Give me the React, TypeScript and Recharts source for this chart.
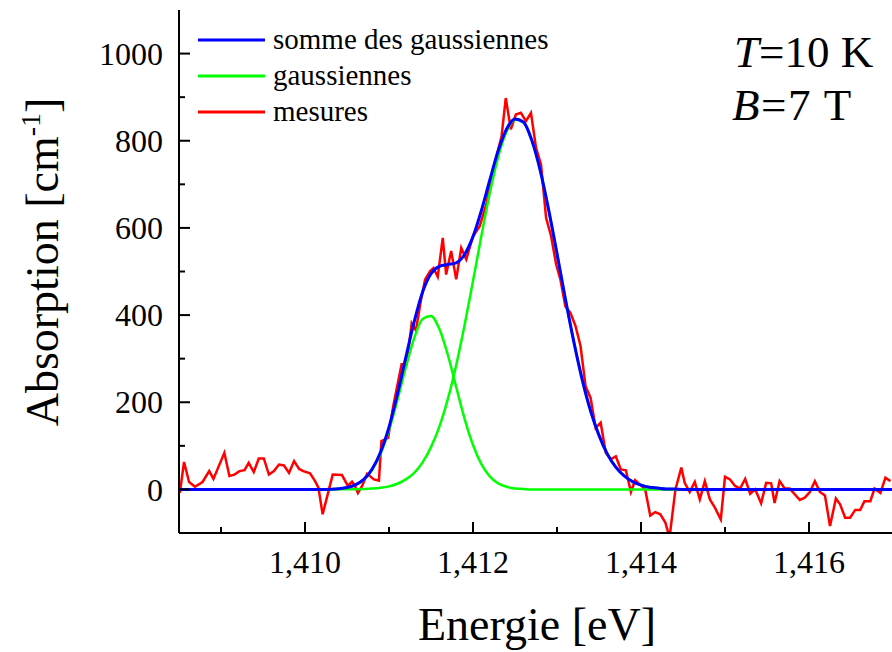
import { LineChart, Line, XAxis, YAxis, Legend } from 'recharts';

const SERIF = '"Liberation Serif", "Times New Roman", serif';

// mesures : énergie (eV) / absorption (cm-1)
const energies = [
  1.40851, 1.40856, 1.40862, 1.40869, 1.40878, 1.40886, 1.40891, 1.40904, 1.4091, 1.40916,
  1.40922, 1.40928, 1.40933, 1.40939, 1.40945, 1.40951, 1.40957, 1.40963, 1.40969, 1.40975,
  1.40981, 1.40987, 1.40993, 1.40998, 1.41006, 1.41012, 1.41016, 1.41021, 1.41028, 1.41033,
  1.41044, 1.41051, 1.41056, 1.41059, 1.41063, 1.41068, 1.41074, 1.41082, 1.41088, 1.41091,
  1.41099, 1.41105, 1.41115, 1.41121, 1.41127, 1.41132, 1.41138, 1.41143, 1.41149, 1.41153,
  1.41158, 1.41164, 1.41168, 1.41174, 1.4118, 1.41186, 1.41192, 1.412, 1.41208, 1.41216,
  1.41222, 1.41228, 1.41234, 1.41239, 1.41245, 1.41251, 1.41257, 1.41263, 1.41269, 1.41275,
  1.41281, 1.41287, 1.41293, 1.41299, 1.41304, 1.4131, 1.41316, 1.41322, 1.41328, 1.41334,
  1.4134, 1.41346, 1.41352, 1.41358, 1.41364, 1.4137, 1.41376, 1.41382, 1.41388, 1.41393,
  1.41399, 1.41405, 1.41411, 1.41417, 1.41423, 1.41429, 1.41434, 1.41441, 1.41448, 1.41452,
  1.41458, 1.41464, 1.4147, 1.41476, 1.41482, 1.41488, 1.41495, 1.415, 1.41506, 1.41512,
  1.41518, 1.41524, 1.4153, 1.41536, 1.41543, 1.41549, 1.41555, 1.41559, 1.41565, 1.41571,
  1.41577, 1.41583, 1.41589, 1.41595, 1.41601, 1.41607, 1.41613, 1.41619, 1.41625, 1.41632,
  1.41637, 1.41643, 1.41649, 1.41655, 1.41661, 1.41666, 1.41673, 1.41678, 1.41685, 1.41691,
  1.41697,
];
const measured = [
  -8, 63, 17, 6, 17, 42, 24, 84, 31, 34,
  42, 44, 61, 40, 71, 71, 34, 42, 57, 55,
  38, 65, 47, 42, 37, 19, 4, -57, -4, 34,
  33, 8, 18, 10, -8, 8, 36, 23, 20, 111,
  118, 191, 287, 287, 381, 365, 434, 482, 501, 508,
  488, 577, 493, 547, 482, 554, 528, 581, 604, 655,
  715, 765, 810, 898, 826, 860, 864, 845, 864, 784,
  745, 623, 581, 516, 482, 420, 405, 375, 329, 237,
  210, 141, 153, 84, 69, 76, 46, 44, -6, 21,
  11, 0, -60, -52, -57, -76, -110, 0, 50, 15,
  -6, 17, -23, 19, -23, -42, -69, 29, 23, 8,
  2, 24, -10, 0, -32, 15, 14, -31, 19, 2,
  2, -11, -24, -19, -6, 19, -6, -14, -84, -21,
  -34, -65, -65, -47, -47, -27, -27, 2, -8, 27,
  19,
];

// ajustement : deux gaussiennes et leur somme
const fitEnergies = [
  1.4085, 1.4095, 1.41, 1.4102, 1.4103,
  1.4104, 1.4105, 1.4106, 1.4107, 1.4108, 1.4109, 1.411, 1.4111, 1.4112, 1.4113,
  1.4114, 1.4115, 1.4116, 1.4117, 1.4118, 1.4119, 1.412, 1.4121, 1.4122, 1.4123,
  1.4124, 1.4125, 1.4126, 1.4127, 1.4128, 1.4129, 1.413, 1.4131, 1.4132, 1.4133,
  1.4134, 1.4135, 1.4136, 1.4137, 1.4138, 1.4139, 1.414, 1.4141, 1.4142, 1.4143,
  1.4144, 1.4145, 1.415, 1.416, 1.417,
];
const gauss1 = [
  0, 0, 0, 0, 0.5,
  1.5, 4, 10, 22, 45, 82, 136, 205, 280, 347,
  391, 398, 368, 309, 235, 162, 102, 58, 30, 14,
  6, 2, 1, 0, 0, 0, 0, 0, 0, 0,
  0, 0, 0, 0, 0, 0, 0, 0, 0, 0,
  0, 0, 0, 0, 0,
];
const gauss2 = [
  0, 0, 0, 0, 0,
  0.1, 0.2, 0.4, 0.9, 1.9, 3.7, 7, 13, 23, 38,
  62, 97, 144, 207, 285, 377, 478, 582, 680, 763,
  821, 848, 842, 801, 732, 642, 541, 437, 339, 252,
  180, 124, 81, 51, 31, 18, 10, 5, 3, 1,
  0.7, 0, 0, 0, 0,
];
const gaussSum = [
  0, 0, 0, 0, 0.5,
  1.6, 4.2, 10.4, 22.9, 46.9, 85.7, 143, 218, 303, 385,
  453, 495, 512, 516, 520, 539, 580, 640, 710, 777,
  827, 850, 843, 801, 732, 642, 541, 437, 339, 252,
  180, 124, 81, 51, 31, 18, 10, 5, 3, 1,
  0.7, 0, 0, 0, 0,
];

const xTicks = [1.409, 1.41, 1.411, 1.412, 1.413, 1.414, 1.415, 1.416];
const yTicks = [0, 100, 200, 300, 400, 500, 600, 700, 800, 900, 1000];
const legendLabels = ['somme des gaussiennes', 'gaussiennes', 'mesures'];
const legendColors = ['#0000ff', '#00ff00', '#ff0000'];

const measuredData = energies.map((e, i) => ({ e, v: measured[i] }));
const fitData = fitEnergies.map((e, i) => ({ e, g1: gauss1[i], g2: gauss2[i], sum: gaussSum[i] }));

const isMajorX = (v: number) => Math.round(v * 1000) % 2 === 0;
const isMajorY = (v: number) => Math.round(v) % 200 === 0;
const fmtX = (v: number) => v.toFixed(3).replace('.', ',');

const BottomTick = ({ x, y, payload }: any) => {
  const major = isMajorX(payload.value);
  return (
    <g>
      <line x1={x} x2={x} y1={y} y2={y - (major ? 11 : 6)} stroke="#000" strokeWidth={2} />
      {major && (
        <text x={x} y={y + 40} textAnchor="middle" fontFamily={SERIF} fontSize={32} fill="#000">
          {fmtX(payload.value)}
        </text>
      )}
    </g>
  );
};

const TopTick = ({ x, y, payload }: any) => {
  const major = isMajorX(payload.value);
  return <line x1={x} x2={x} y1={y} y2={y + (major ? 11 : 6)} stroke="#000" strokeWidth={2} />;
};

const LeftTick = ({ x, y, payload }: any) => {
  const major = isMajorY(payload.value);
  return (
    <g>
      <line x1={x} x2={x + (major ? 11 : 6)} y1={y} y2={y} stroke="#000" strokeWidth={2} />
      {major && (
        <text x={x - 16} y={y} dy="0.35em" textAnchor="end" fontFamily={SERIF} fontSize={32} fill="#000">
          {payload.value}
        </text>
      )}
    </g>
  );
};

const RightTick = ({ x, y, payload }: any) => {
  const major = isMajorY(payload.value);
  return <line x1={x} x2={x - (major ? 11 : 6)} y1={y} y2={y} stroke="#000" strokeWidth={2} />;
};

const XTitle = () => (
  <text x={537} y={640} textAnchor="middle" fontFamily={SERIF} fontSize={46} fill="#000">
    Energie [eV]
  </text>
);

const YTitle = () => (
  <text
    x={58}
    y={262}
    transform="rotate(-90, 58, 262)"
    textAnchor="middle"
    fontFamily={SERIF}
    fontSize={46}
    fill="#000"
  >
    Absorption [cm
    <tspan dy={-18} fontSize={28}>-1</tspan>
    <tspan dy={18}>]</tspan>
  </text>
);

const LegendBox = () => (
  <div style={{ fontFamily: SERIF, fontSize: 29, lineHeight: '36px', color: '#000' }}>
    {legendLabels.map((label, i) => (
      <div key={label} style={{ display: 'flex', alignItems: 'center', height: 36 }}>
        <svg width={67} height={6} style={{ marginRight: 8, marginTop: 2 }}>
          <line x1={0} x2={67} y1={3} y2={3} stroke={legendColors[i]} strokeWidth={3} />
        </svg>
        <span style={{ whiteSpace: 'nowrap' }}>{label}</span>
      </div>
    ))}
  </div>
);

const axisStyle = { stroke: '#000', strokeWidth: 2 };

export default function App() {
  return (
    <div
      style={{
        position: 'fixed',
        left: 0,
        top: 0,
        width: 892,
        height: 652,
        overflow: 'hidden',
        background: '#fff',
      }}
    >
      <LineChart width={900} height={652} margin={{ top: 10, right: 7, bottom: 59, left: 79 }}>
        <XAxis
          type="number"
          dataKey="e"
          domain={[1.4085, 1.417]}
          allowDataOverflow
          ticks={xTicks}
          interval={0}
          height={60}
          tickSize={0}
          tickMargin={0}
          tickLine={false}
          axisLine={axisStyle}
          tick={(p: any) => <BottomTick {...p} />}
          label={<XTitle />}
        />
        <XAxis
          xAxisId="top"
          orientation="top"
          type="number"
          dataKey="e"
          domain={[1.4085, 1.417]}
          allowDataOverflow
          ticks={xTicks}
          interval={0}
          height={0}
          tickSize={0}
          tickMargin={0}
          tickLine={false}
          axisLine={axisStyle}
          tick={(p: any) => <TopTick {...p} />}
        />
        <YAxis
          type="number"
          domain={[-100, 1100]}
          allowDataOverflow
          ticks={yTicks}
          interval={0}
          width={100}
          tickSize={0}
          tickMargin={0}
          tickLine={false}
          axisLine={axisStyle}
          tick={(p: any) => <LeftTick {...p} />}
          label={<YTitle />}
        />
        <YAxis
          yAxisId="right"
          orientation="right"
          type="number"
          domain={[-100, 1100]}
          allowDataOverflow
          ticks={yTicks}
          interval={0}
          width={0}
          tickSize={0}
          tickMargin={0}
          tickLine={false}
          axisLine={axisStyle}
          tick={(p: any) => <RightTick {...p} />}
        />
        <Legend
          layout="horizontal"
          verticalAlign="middle"
          align="center"
          wrapperStyle={{ top: 21, left: 198, width: 'auto', height: 'auto' }}
          content={() => <LegendBox />}
        />
        <Line
          data={measuredData}
          dataKey="v"
          name="mesures"
          type="linear"
          stroke="#ff0000"
          strokeWidth={2.5}
          dot={false}
          isAnimationActive={false}
        />
        <Line
          data={fitData}
          dataKey="g1"
          name="gaussiennes"
          type="monotone"
          stroke="#00ff00"
          strokeWidth={2.5}
          dot={false}
          isAnimationActive={false}
        />
        <Line
          data={fitData}
          dataKey="g2"
          name="gaussienne 2"
          legendType="none"
          type="monotone"
          stroke="#00ff00"
          strokeWidth={2.5}
          dot={false}
          isAnimationActive={false}
        />
        <Line
          data={fitData}
          dataKey="sum"
          name="somme des gaussiennes"
          type="monotone"
          stroke="#0000ff"
          strokeWidth={3}
          dot={false}
          isAnimationActive={false}
        />
      </LineChart>
      <svg
        width={892}
        height={652}
        style={{ position: 'absolute', left: 0, top: 0, pointerEvents: 'none' }}
      >
        <text x={734} y={67} fontFamily={SERIF} fontSize={45} fill="#000">
          <tspan fontStyle="italic">T</tspan>=10 K
        </text>
        <text x={732} y={120} fontFamily={SERIF} fontSize={45} letterSpacing={1.5} fill="#000">
          <tspan fontStyle="italic">B</tspan>=7 T
        </text>
      </svg>
    </div>
  );
}
